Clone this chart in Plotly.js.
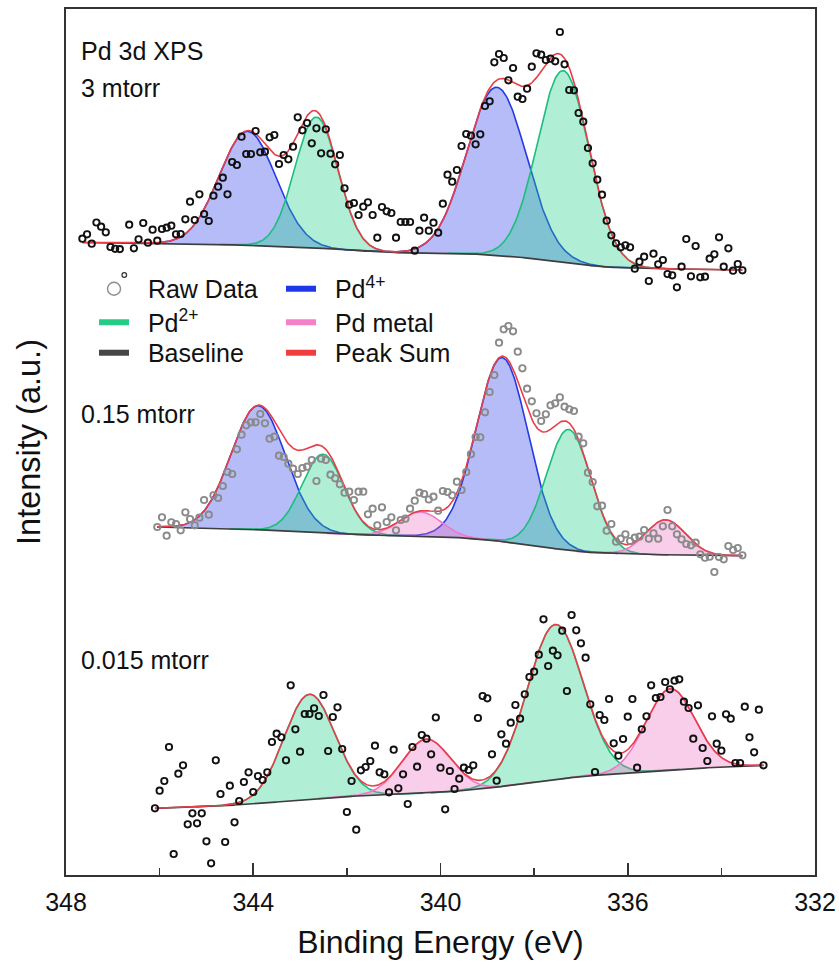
<!DOCTYPE html>
<html>
<head>
<meta charset="utf-8">
<script src="https://cdn.plot.ly/plotly-3.0.1.min.js"></script>
<style>html,body{margin:0;padding:0;background:#fff;}</style>
</head>
<body>
<div id="chart" style="width:839px;height:967px;"></div>
<script>
// ---------------- DATA ----------------
// Binding energies (eV) of the raw data points and intensities (a.u.)

// --- 3 mtorr ---
const topX = [
347.65,347.55,347.45,347.35,347.25,347.15,347.05,346.95,346.85,
346.65,346.55,346.45,346.35,346.25,346.15,346.05,345.95,345.85,345.75,
345.65,345.55,345.45,345.35,345.25,345.15,345.05,344.95,344.85,344.75,
344.65,344.55,344.45,344.35,344.25,344.15,344.05,343.95,343.85,343.75,
343.65,343.55,343.45,343.35,343.25,343.15,343.05,342.95,342.85,342.75,
342.65,342.55,342.45,342.35,342.25,342.15,342.05,341.95,341.85,341.75,
341.65,341.55,341.45,341.35,341.25,341.15,341.05,340.95,340.85,340.75,
340.65,340.55,340.45,340.35,340.25,340.15,340.05,339.95,339.85,339.75,
339.65,339.55,339.45,339.35,339.25,339.15,339.05,338.95,338.85,338.75,
338.65,338.55,338.45,338.35,338.25,338.15,338.05,337.95,337.85,337.75,
337.65,337.55,337.45,337.35,337.25,337.15,337.05,336.95,336.85,336.75,
336.65,336.55,336.45,336.35,336.25,336.15,336.05,335.95,335.85,335.75,
335.65,335.55,335.45,335.35,335.25,335.15,335.05,334.95,334.85,334.75,
334.65,334.55,334.45,334.35,334.25,334.15,334.05,333.95,333.85,333.75,
333.65,333.55];
const topY = [
636.3,640.7,631.3,652.5,648.3,642.7,628,626.2,625.9,
650.3,626.7,635.7,652,632.3,645.3,634.3,646,647.3,649.3,
640.7,641,655.7,673.3,655,680.7,661,654,679.3,688.3,
697.3,680.7,713,710,738.3,721,721,744,722.7,723.3,
737.7,740,711,720,715.7,728.3,757.7,744.7,752,731.7,
746.7,721.7,745.7,721.3,710.7,720,686.7,670.3,672,660,
668.3,672.7,660,637.3,668,663.7,662,637.3,653,653,
653,624.3,644.3,657.3,644.3,652.3,642.3,671.3,700.3,693.3,
705,729,741,739.3,730.7,740.7,769,773.7,812.7,821,
817,794.7,807,778.3,776,786.3,808.3,821.7,820.3,815,
816.3,813.7,843,810.7,785,784.7,762,753.3,727,711.7,
695.3,680.3,654.3,639.7,631.7,627.7,629.7,627.7,606.3,613.3,
618.3,594,621.3,610.7,615,601,599.7,587.7,608.3,636,
598.7,629,597.7,598.3,616.3,620.7,637.7,608.3,626.7,604.3,
611,604.7];
const topBaseX = [347.65,345.0,343.0,342.0,341.0,339.5,338.5,337.5,336.5,335.5,333.55];
const topBaseY = [632.5,631,628,625,622.5,621.5,619,613,608,606.5,605];
const topPd4Center = [344.12,338.80];
const topPd4Height = [114,168];
const topPd4Fwhm   = [1.42,1.50];
const topPd2Center = [342.65,337.38];
const topPd2Height = [131,192];
const topPd2Fwhm   = [1.08,1.30];
const topPd0Center = [];
const topPd0Height = [];
const topPd0Fwhm   = [];

// --- 0.15 mtorr ---
const midX = [
346.05,345.95,345.85,345.75,345.65,345.55,345.45,345.35,345.25,345.15,
345.05,344.95,344.85,344.75,344.65,344.55,344.45,344.35,344.25,344.15,
344.05,343.95,343.85,343.75,343.65,343.55,343.45,343.35,343.25,343.15,
343.05,342.95,342.85,342.75,342.65,342.55,342.45,342.35,342.25,342.15,
342.05,341.95,341.85,341.75,341.65,341.55,341.45,341.35,341.25,341.15,
341.05,340.95,340.85,340.75,340.65,340.55,340.45,340.35,340.25,340.15,
340.05,339.95,339.85,339.75,339.65,339.55,339.45,339.35,339.25,339.15,
339.05,338.95,338.85,338.75,338.65,338.55,338.45,338.35,338.25,338.15,
338.05,337.95,337.85,337.75,337.65,337.55,337.45,337.35,337.25,337.15,
337.05,336.95,336.85,336.75,336.65,336.55,336.45,336.35,336.25,336.15,
336.05,335.95,335.85,335.75,335.65,335.55,335.45,335.35,335.25,335.15,
335.05,334.95,334.85,334.75,334.65,334.55,334.45,334.35,334.25,334.15,
334.05,333.95,333.85,333.75,333.65,333.55];
const midY = [
348,357.7,339.3,352.7,351,344.7,362.7,356,349.7,357.3,
375,360.3,379.7,377,389,403,401,425.7,440.3,449.7,
452.7,452.7,461,451.7,436.3,438.3,419.3,418,411.3,406.3,
401,407,408.3,415,394,416.3,415,400.3,396.7,390.7,
382.3,383.3,375,383.3,383.3,360.7,366.3,349.7,367.7,353,
357.7,344.7,355,356.3,366.3,374.3,382.3,381,375.5,378.3,
364.3,384,383,379.7,393.3,385,403,420.8,438,437.7,
462.7,483,500,532.3,545.7,549,543.7,523.3,506.7,486.3,
473.7,461.7,454,460.7,469.7,471.7,477.7,468.3,465.7,464,
438.3,431.7,402.3,393,368.7,369.3,344.3,351,333.3,336.3,
340.7,334,337.3,338.3,345,336.3,341.7,336.3,348.7,365,
348.7,340.7,335.7,331,329.7,332.3,320.7,317.3,318.3,303,
318,315.7,329,325,327,319.7];
const midBaseX = [346.05,345.0,344.0,343.0,342.0,341.0,340.0,339.0,338.0,337.0,336.0,335.0,333.55];
const midBaseY = [348,347,345.5,343,340.5,339.5,338.5,335.5,329,323,321,320,319.3];
const midPd4Center = [343.89,338.68];
const midPd4Height = [124,184];
const midPd4Fwhm   = [1.37,1.30];
const midPd2Center = [342.51,337.26];
const midPd2Height = [79,121];
const midPd2Fwhm   = [1.05,1.12];
const midPd0Center = [340.43,335.19];
const midPd0Height = [24,35];
const midPd0Fwhm   = [1.05,1.0];

// --- 0.015 mtorr ---
const botX = [
346.1,346.0,345.9,345.8,345.7,345.6,345.5,345.4,345.3,345.2,
345.1,345.0,344.9,344.8,344.7,344.6,344.5,344.4,344.3,344.2,
344.1,344.0,343.9,343.8,343.7,343.6,343.5,343.4,343.3,343.2,
343.1,343.0,342.9,342.8,342.7,342.6,342.5,342.4,342.3,342.2,
342.1,342.0,341.9,341.8,341.7,341.6,341.5,341.4,341.3,341.2,
341.1,341.0,340.9,340.8,340.7,340.6,340.5,340.4,340.3,340.2,
340.1,340.0,339.9,339.8,339.7,339.6,339.5,339.4,339.3,339.2,
339.1,339.0,338.9,338.8,338.7,338.6,338.5,338.4,338.3,338.2,
338.1,338.0,337.9,337.8,337.7,337.6,337.5,337.4,337.3,337.2,
337.1,337.0,336.9,336.8,336.7,336.6,336.5,336.4,336.3,336.2,
336.1,336.0,335.9,335.8,335.7,335.6,335.5,335.4,335.3,335.2,
335.1,335.0,334.9,334.8,334.7,334.6,334.5,334.4,334.3,334.2,
334.1,334.0,333.9,333.8,333.7,333.6,333.5,333.4,333.3,333.2,
333.1];
const botY = [
66.7,84.3,94,128,21,101.3,109.7,50.7,61.7,51.7,
61.7,33.7,11.7,114.7,81,33,89.3,52.7,74,93,
102.7,83,99,95,102.7,133,141.3,137.7,114.7,189.7,
145.7,123.3,161,161,166.7,159,180,124,158,167.7,
126,63,94,45.3,104.7,108,114,129.3,102.7,100.7,
82.7,125.3,86.7,100.7,71,128,108.3,140,136.3,120.7,
157.5,107.3,65.7,104,86,96.3,107.3,105,109.7,157,
179,176.7,120.7,94.3,140.7,131.3,152.3,170,156.3,180.7,
198,203.3,220.3,255.7,209,224.3,219.7,244.3,184,260,
244.7,231.7,217.3,170.7,103,160,155,176,131.7,119.3,
136,158.3,176,107.3,145.7,158.7,189.7,177,178,193,
185.7,194.3,195.7,173.3,167,136.3,169.7,127,114,158.7,
131.3,124.3,160.7,156.3,112,112,168.3,137.7,122.7,165.3,
109.7];
const botBaseX = [346.1,345.0,344.0,343.0,342.0,341.0,340.0,339.0,338.0,337.0,336.0,335.0,334.0,333.1];
const botBaseY = [66.7,68.5,71,75,78.5,80.5,82.5,86.5,93,98.5,102,105.5,108,109.7];
const botPd4Center = [];
const botPd4Height = [];
const botPd4Fwhm   = [];
const botPd2Center = [342.80,337.55];
const botPd2Height = [105,155];
const botPd2Fwhm   = [1.28,1.40];
const botPd0Center = [340.30,335.09];
const botPd0Height = [54,81];
const botPd0Fwhm   = [1.22,1.24];

const xTicks = [348,344,340,336,332];
const spectrumLabels = ['Pd 3d XPS','3 mtorr','0.15 mtorr','0.015 mtorr'];
const legendNames = ['Raw Data','Pd<sup>4+</sup>','Pd<sup>2+</sup>','Pd metal','Baseline','Peak Sum'];

// ---------------- STYLE ----------------
const FONT = '"Liberation Sans", Arial, Helvetica, sans-serif';
const C = {
  pd4: {line:'rgb(35,58,228)',  fill:'rgba(45,62,232,0.35)',  leg:'rgb(30,55,232)'},
  pd2: {line:'rgb(28,190,125)', fill:'rgba(29,206,138,0.35)', leg:'rgb(35,205,135)'},
  pd0: {line:'rgb(240,120,200)',fill:'rgba(238,105,190,0.33)',leg:'rgb(246,128,200)'},
  base:'rgb(62,62,62)', sum:'rgb(232,62,72)'
};

// ---------------- MODEL HELPERS ----------------
function baseAt(bx, by, x){
  if (x >= bx[0]) return by[0];
  for (let i = 0; i < bx.length - 1; i++){
    if (x <= bx[i] && x >= bx[i+1]){
      const t = (bx[i] - x) / (bx[i] - bx[i+1]);
      return by[i] + t * (by[i+1] - by[i]);
    }
  }
  return by[by.length - 1];
}
function gauss(x, c, h, w){ return h * Math.exp(-4 * Math.LN2 * Math.pow((x - c) / w, 2)); }
function grid(hi, lo){ const n = Math.round((hi - lo) / 0.02); const a = []; for (let i = 0; i <= n; i++) a.push(hi - (hi - lo) * i / n); return a; }

function spectrumTraces(s){
  const traces = [];
  const xmax = s.x[0], xmin = s.x[s.x.length - 1];
  const peaks = [];
  const add = (cs, hs, ws, kind) => { for (let i = 0; i < cs.length; i++) peaks.push({c:cs[i], h:hs[i], w:ws[i], kind}); };
  add(s.pd4c, s.pd4h, s.pd4w, 'pd4');
  add(s.pd2c, s.pd2h, s.pd2w, 'pd2');
  add(s.pd0c, s.pd0h, s.pd0w, 'pd0');
  peaks.forEach(p => {
    const hi = Math.min(xmax, p.c + 1.9 * p.w), lo = Math.max(xmin, p.c - 1.9 * p.w);
    const xs = grid(hi, lo);
    const b = xs.map(x => baseAt(s.bx, s.by, x));
    traces.push({x:xs, y:b, mode:'lines', line:{width:0, color:'rgba(0,0,0,0)'}, hoverinfo:'skip', showlegend:false});
    traces.push({x:xs, y:xs.map((x, i) => b[i] + gauss(x, p.c, p.h, p.w)), mode:'lines', fill:'tonexty',
      fillcolor:C[p.kind].fill, line:{color:C[p.kind].line, width:1.6}, hoverinfo:'skip', showlegend:false});
  });
  const xf = grid(xmax, xmin);
  const bf = xf.map(x => baseAt(s.bx, s.by, x));
  traces.push({x:xf, y:bf, mode:'lines', line:{color:C.base, width:1.7}, showlegend:false, hoverinfo:'skip'});
  traces.push({x:xf, y:xf.map((x, i) => bf[i] + peaks.reduce((acc, p) => acc + gauss(x, p.c, p.h, p.w), 0)),
    mode:'lines', line:{color:C.sum, width:1.6}, showlegend:false, hoverinfo:'skip'});
  traces.push({x:s.x, y:s.y, mode:'markers', showlegend:false,
    marker:{symbol:'circle', size:6.3, color:'rgba(0,0,0,0)', line:{color:s.mc, width:1.9}}});
  return traces;
}

const spectra = [
  {x:topX, y:topY, bx:topBaseX, by:topBaseY, mc:'#111',
   pd4c:topPd4Center, pd4h:topPd4Height, pd4w:topPd4Fwhm, pd2c:topPd2Center, pd2h:topPd2Height, pd2w:topPd2Fwhm,
   pd0c:topPd0Center, pd0h:topPd0Height, pd0w:topPd0Fwhm},
  {x:midX, y:midY, bx:midBaseX, by:midBaseY, mc:'#8a8a8a',
   pd4c:midPd4Center, pd4h:midPd4Height, pd4w:midPd4Fwhm, pd2c:midPd2Center, pd2h:midPd2Height, pd2w:midPd2Fwhm,
   pd0c:midPd0Center, pd0h:midPd0Height, pd0w:midPd0Fwhm},
  {x:botX, y:botY, bx:botBaseX, by:botBaseY, mc:'#111',
   pd4c:botPd4Center, pd4h:botPd4Height, pd4w:botPd4Fwhm, pd2c:botPd2Center, pd2h:botPd2Height, pd2w:botPd2Fwhm,
   pd0c:botPd0Center, pd0h:botPd0Height, pd0w:botPd0Fwhm}
];

let data = [];
spectra.forEach(s => { data = data.concat(spectrumTraces(s)); });

// legend-only entries (two columns, three rows)
const pad = '\u00a0\u00a0';
data.push({x:[null], y:[null], mode:'markers', name:pad + legendNames[0], legend:'legend',
  marker:{symbol:'circle', size:13, color:'rgba(0,0,0,0)', line:{color:'#8c8c8c', width:1.4}}});
data.push({x:[null], y:[null], mode:'lines', name:pad + legendNames[1], legend:'legend', line:{color:C.pd4.leg, width:6}});
data.push({x:[null], y:[null], mode:'lines', name:pad + legendNames[2], legend:'legend2', line:{color:C.pd2.leg, width:6}});
data.push({x:[null], y:[null], mode:'lines', name:pad + legendNames[3], legend:'legend2', line:{color:C.pd0.leg, width:6}});
data.push({x:[null], y:[null], mode:'lines', name:pad + legendNames[4], legend:'legend3', line:{color:'rgb(70,70,70)', width:6}});
data.push({x:[null], y:[null], mode:'lines', name:pad + legendNames[5], legend:'legend3', line:{color:'rgb(240,62,62)', width:6}});

const legBase = {orientation:'h', xanchor:'left', yanchor:'middle', x:0.0374,
  font:{family:FONT, size:25, color:'#111'}, entrywidth:142, entrywidthmode:'pixels',
  bgcolor:'rgba(0,0,0,0)', borderwidth:0, itemwidth:30, traceorder:'normal'};

const ann = (txt, y) => ({xref:'paper', yref:'paper', x:0.0178, y:y, xanchor:'left', yanchor:'middle',
  text:txt, showarrow:false, font:{family:FONT, size:25, color:'#111'}});

const layout = {
  width:839, height:967,
  margin:{l:66, r:24, t:9, b:92},
  paper_bgcolor:'#fff', plot_bgcolor:'#fff',
  font:{family:FONT, color:'#111'},
  showlegend:true,
  xaxis:{
    range:[348, 332], tickvals:xTicks, ticktext:xTicks.map(String),
    ticks:'inside', ticklen:12, tickwidth:1.6, tickcolor:'#333', ticklabelstandoff:4,
    minor:{tickvals:[346,342,338,334], ticks:'inside', ticklen:7, tickwidth:1.5, tickcolor:'#333'},
    showline:true, mirror:true, linecolor:'#333', linewidth:2,
    showgrid:false, zeroline:false,
    tickfont:{family:FONT, size:25, color:'#111'},
    title:{text:'\u00a0Binding Energy (eV)', font:{family:FONT, size:32, color:'#111'}, standoff:16}
  },
  yaxis:{
    range:[0, 866], showticklabels:false, ticks:'',
    showline:true, mirror:true, linecolor:'#333', linewidth:2,
    showgrid:false, zeroline:false,
    title:{text:'Intensity (a.u.)\u00a0\u00a0', font:{family:FONT, size:32.5, color:'#111'}, standoff:14}
  },
  legend: Object.assign({}, legBase, {y:0.6767}),
  legend2: Object.assign({}, legBase, {y:0.6380}),
  legend3: Object.assign({}, legBase, {y:0.6028}),
  annotations:[ann(spectrumLabels[0], 0.951), ann(spectrumLabels[1], 0.9084),
               ann(spectrumLabels[2], 0.5323), ann(spectrumLabels[3], 0.2477)],
  shapes:[{type:'circle', xref:'paper', yref:'paper', x0:0.0747, x1:0.0809, y0:0.6901, y1:0.6955,
           line:{color:'#333', width:1.2}, fillcolor:'rgba(0,0,0,0)'}]
};

Plotly.newPlot('chart', data, layout, {displayModeBar:false, staticPlot:true});
</script>
</body>
</html>
